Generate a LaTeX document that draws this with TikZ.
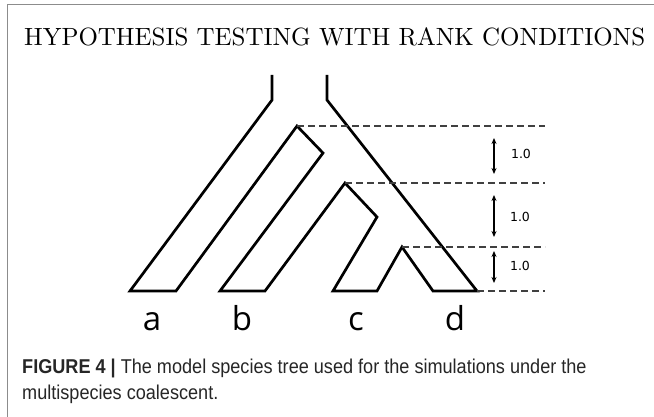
\documentclass[tikz,border=0pt]{standalone}
\usepackage{graphicx}
\usepackage{fontspec}
\newfontfamily\leaffont{Open Sans}
\newfontfamily\numfont{DejaVu Sans}
\newfontfamily\capfont[FakeStretch=0.905]{Liberation Sans}
\usetikzlibrary{arrows.meta}
\tikzset{
  x=1pt, y=-1pt,
  branch/.style={line width=2.7pt, line join=miter, black},
  level/.style={line width=1.3pt, dash pattern=on 7pt off 4pt, black!75},
  span/.style={line width=1.3pt, {Stealth[length=6pt,width=5pt]}-{Stealth[length=6pt,width=5pt]}},
  leaf/.style={inner sep=0, anchor=base, font=\leaffont\fontsize{33}{36}\selectfont},
  unit/.style={inner sep=0, anchor=center, font=\numfont\fontsize{12.5}{14}\selectfont},
  frame/.style={line width=1pt, black!45},
  captext/.style={anchor=base west, inner sep=0, text=black!85,
    font=\capfont\fontsize{20}{24}\selectfont},
}
\begin{document}
\begin{tikzpicture}
\useasboundingbox (0,0) rectangle (654,417);
\fill[white] (0,0) rectangle (654,417);
% page frame
\coordinate (f0) at (7,5);
\coordinate (f1) at (654,5);
\coordinate (f2) at (7,417);
\draw[frame] (f1) -- (f0) -- (f2);

% running head
\node[anchor=base west, inner sep=0] (title) at (24,46)
  {\resizebox{621pt}{!}{HYPOTHESIS TESTING WITH RANK CONDITIONS}};

% outline of the species tree
\coordinate (LT) at (272,75);
\coordinate (L1) at (272,100);
\coordinate (A1) at (130,291);
\coordinate (A2) at (176,291);
\coordinate (R1) at (297,126);
\coordinate (R2) at (323,153);
\coordinate (B1) at (220,291);
\coordinate (B2) at (265,291);
\coordinate (C0) at (345,183);
\coordinate (C1) at (377,217);
\coordinate (C2) at (333,291);
\coordinate (C3) at (377,291);
\coordinate (D0) at (402,247);
\coordinate (D1) at (433,291);
\coordinate (D2) at (477,291);
\coordinate (RR) at (327,100);
\coordinate (RT) at (327,75);
\draw[branch] (LT) -- (L1) -- (A1) -- (A2) -- (R1) -- (R2) -- (B1) -- (B2)
  -- (C0) -- (C1) -- (C2) -- (C3) -- (D0) -- (D1) -- (D2) -- (RR) -- (RT);

% time levels of the speciation events
\coordinate (E1) at (545,126);
\coordinate (E2) at (545,183);
\coordinate (E3) at (545,247);
\coordinate (E4) at (545,291);
\draw[level] (R1) -- (E1);
\draw[level] (C0) -- (E2);
\draw[level] (D0) -- (E3);
\draw[level] (D2) -- (E4);

% branch lengths
\coordinate (s1a) at (494,138);
\coordinate (s1b) at (494,174);
\coordinate (s2a) at (494,195);
\coordinate (s2b) at (494,237);
\coordinate (s3a) at (494,251);
\coordinate (s3b) at (494,283);
\draw[span] (s1a) -- (s1b);
\draw[span] (s2a) -- (s2b);
\draw[span] (s3a) -- (s3b);
\node[unit] (u1) at (521,154) {1.0};
\node[unit] (u2) at (520,217) {1.0};
\node[unit] (u3) at (520,266) {1.0};

% species labels
\node[leaf] (la) at (152,330) {a};
\node[leaf] (lb) at (242,330) {b};
\node[leaf] (lc) at (356,330) {c};
\node[leaf] (ld) at (455,330) {d};

% caption
\node[captext] (cap1) at (22,373)
  {\textbf{FIGURE 4 |} The model species tree used for the simulations under the};
\node[captext] (cap2) at (22,399)
  {multispecies coalescent.};
\end{tikzpicture}
\end{document}
